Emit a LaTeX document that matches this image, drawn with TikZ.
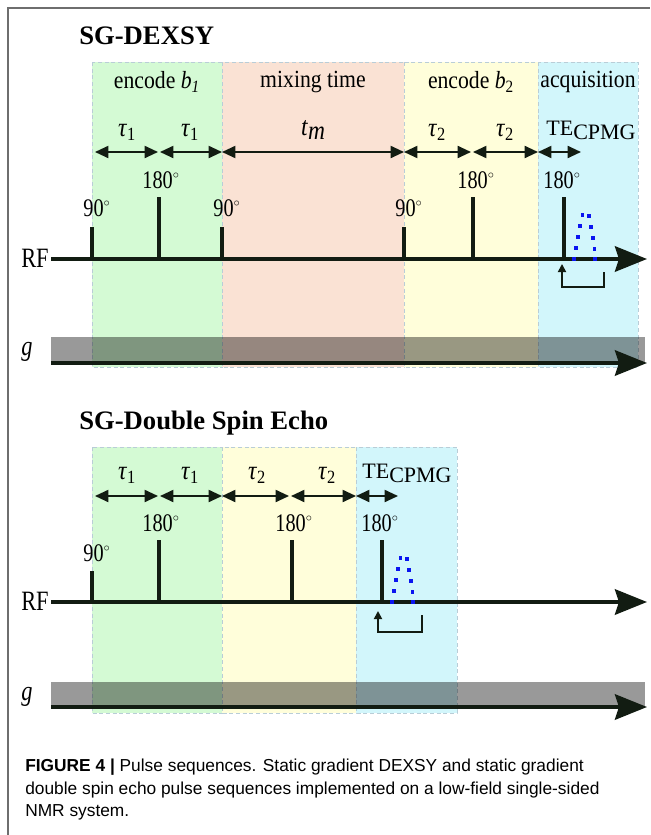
\documentclass[tikz,border=0pt]{standalone}
\usepackage{fontspec}
\setmainfont{Liberation Serif}
\newfontfamily\capfont{Liberation Sans}
\newfontfamily\lblfont[FakeStretch=0.88]{Liberation Serif}
\newfontfamily\numfont[FakeStretch=0.8]{Liberation Serif}
\usetikzlibrary{arrows.meta}
\definecolor{bgreen}{RGB}{212,250,212}
\definecolor{bpeach}{RGB}{250,226,212}
\definecolor{byellow}{RGB}{255,254,218}
\definecolor{bblue}{RGB}{210,246,251}
\definecolor{bedge}{RGB}{185,205,215}
\definecolor{ink}{RGB}{18,28,18}
\definecolor{frame}{RGB}{110,110,110}
\definecolor{dotblue}{RGB}{10,20,240}
\newcommand{\dg}{\raisebox{1pt}{$^{\scriptscriptstyle\circ}$}}
\tikzset{
  lbl/.style={font=\lblfont\fontsize{18.5}{21}\selectfont, inner sep=0pt},
  tau/.style={font=\lblfont\fontsize{20}{22}\selectfont, inner sep=0pt},
  num/.style={font=\numfont\fontsize{19}{21}\selectfont, inner sep=0pt},
  tecp/.style={font=\fontsize{16.5}{19}\selectfont, inner sep=0pt},
  ttl/.style={font=\fontsize{20}{24}\selectfont\bfseries, inner sep=0pt, anchor=west},
  axlbl/.style={font=\numfont\fontsize{21}{23}\selectfont, inner sep=0pt},
  band/.style={draw=bedge, dashed, dash pattern=on 3pt off 2pt, line width=0.5pt},
  axisline/.style={draw=ink, line width=3pt, -{Stealth[length=24pt, width=19pt, inset=3pt]}},
  gbar/.style={fill=black, opacity=0.4},
  pulsea/.style={draw=ink, line width=2.3pt},
  pulseb/.style={draw=ink, line width=3.4pt},
  tarr/.style={draw=ink, line width=1.4pt, {Triangle[length=10pt, width=9pt]}-{Triangle[length=10pt, width=9pt]}},
  brk/.style={draw=ink, line width=1.3pt, -{Triangle[length=6pt, width=6pt]}},
  dotsq/.style={fill=dotblue}
}
\begin{document}
\begin{tikzpicture}[x=0.75pt, y=-0.75pt]
\useasboundingbox (0,0) rectangle (650,835);
\fill[white] (0,0) rectangle (650,835);
\draw[frame, line width=1.1pt] (8,835) -- (8,8) -- (650,8);

% ================= SG-DEXSY =================
\node[ttl] (t1) at (79,36) {SG-DEXSY};
\path[band, fill=bgreen]  (92,62)  rectangle (222,367);
\path[band, fill=bpeach]  (222,62) rectangle (404,367);
\path[band, fill=byellow] (404,62) rectangle (538,367);
\path[band, fill=bblue]   (538,62) rectangle (638,367);

\node[lbl] (e1) at (157,82) {encode \textit{b}\textsubscript{\textit{1}}};
\node[lbl] (mx) at (313,82) {mixing time};
\node[lbl] (e2) at (471,82) {encode \textit{b}\textsubscript{2}};
\node[lbl] (aq) at (588,82) {acquisition};

\node[tau] (ta1) at (127,132) {\textit{τ}\textsubscript{1}};
\node[tau] (ta2) at (190,132) {\textit{τ}\textsubscript{1}};
\node[tau] (tm)  at (313,130) {\textit{t}\raisebox{-3pt}{\textit{m}}};
\node[tau] (tb1) at (437,132) {\textit{τ}\textsubscript{2}};
\node[tau] (tb2) at (505,132) {\textit{τ}\textsubscript{2}};
\node[tecp] (te)  at (591,130) {TE\raisebox{-3pt}{CPMG}};

\coordinate (a0) at (95,152);
\coordinate (a1) at (158,152);
\coordinate (a1b) at (160,152);
\coordinate (a2) at (222,152);
\coordinate (a3) at (404,152);
\coordinate (a4) at (471,152);
\coordinate (a4b) at (473,152);
\coordinate (a5) at (538,152);
\coordinate (a6) at (581,152);
\draw[tarr] (a0) -- (a1);
\draw[tarr] (a1b) -- (a2);
\draw[tarr] (a2) -- (a3);
\draw[tarr] (a3) -- (a4);
\draw[tarr] (a4b) -- (a5);
\draw[tarr] (a5) -- (a6);

\node[num] (d1) at (161,180) {180\dg};
\node[num] (d2) at (476,180) {180\dg};
\node[num] (d3) at (562,180) {180\dg};
\node[num] (n1) at (97,208) {90\dg};
\node[num] (n2) at (227,208) {90\dg};
\node[num] (n3) at (409,208) {90\dg};

\fill[gbar] (51,337) rectangle (645,363);
\coordinate (g1s) at (51,363);
\coordinate (g1e) at (647,363);
\draw[axisline] (g1s) -- (g1e);
\node[axlbl] (g1) at (27,352) {\textit{g}};

\coordinate (r1s) at (51,259);
\coordinate (r1e) at (647,259);
\draw[axisline] (r1s) -- (r1e);
\node[axlbl] (rf1) at (35,258) {RF};

\draw[pulsea] (92,260) -- (92,227);
\draw[pulsea] (222,260) -- (222,227);
\draw[pulsea] (404,260) -- (404,227);
\draw[pulseb] (159,260) -- (159,197);
\draw[pulseb] (473,260) -- (473,197);
\draw[pulseb] (564,260) -- (564,197);

\begin{scope}[shift={(574,259)}]
\foreach \dx/\dy in {0/0,2/-11,4/-22,6/-33,8.5/-44,15/-43,17/-32,19/-21,20.5/-10,21/0}
  \fill[dotsq] (\dx-1.8,\dy-1.8) rectangle ++(3.6,3.6);
\end{scope}

\coordinate (k1a) at (604,272);
\coordinate (k1b) at (604,287);
\coordinate (k1c) at (562,287);
\coordinate (k1d) at (562,264);
\draw[brk] (k1a) -- (k1b) -- (k1c) -- (k1d);

% ================= SG-Double Spin Echo =================
\node[ttl] (t2) at (79,423) {SG-Double Spin Echo};
\path[band, fill=bgreen]  (92,447)  rectangle (222,713);
\path[band, fill=byellow] (222,447) rectangle (356,713);
\path[band, fill=bblue]   (356,447) rectangle (457,713);

\node[tau] (sa1) at (127,475) {\textit{τ}\textsubscript{1}};
\node[tau] (sa2) at (190,475) {\textit{τ}\textsubscript{1}};
\node[tau] (sb1) at (257,475) {\textit{τ}\textsubscript{2}};
\node[tau] (sb2) at (327,475) {\textit{τ}\textsubscript{2}};
\node[tecp] (se)  at (407,473) {TE\raisebox{-3pt}{CPMG}};

\coordinate (b0) at (95,496);
\coordinate (b1) at (158,496);
\coordinate (b1b) at (160,496);
\coordinate (b2) at (222,496);
\coordinate (b3) at (289,496);
\coordinate (b3b) at (291,496);
\coordinate (b4) at (356,496);
\coordinate (b5) at (398,496);
\draw[tarr] (b0) -- (b1);
\draw[tarr] (b1b) -- (b2);
\draw[tarr] (b2) -- (b3);
\draw[tarr] (b3b) -- (b4);
\draw[tarr] (b4) -- (b5);

\node[num] (f1) at (161,523) {180\dg};
\node[num] (f2) at (294,523) {180\dg};
\node[num] (f3) at (380,523) {180\dg};
\node[num] (m1) at (97,553) {90\dg};

\fill[gbar] (51,682) rectangle (645,707);
\coordinate (g2s) at (51,707);
\coordinate (g2e) at (647,707);
\draw[axisline] (g2s) -- (g2e);
\node[axlbl] (g2) at (27,697) {\textit{g}};

\coordinate (r2s) at (51,602);
\coordinate (r2e) at (647,602);
\draw[axisline] (r2s) -- (r2e);
\node[axlbl] (rf2) at (35,601) {RF};

\draw[pulsea] (92,603) -- (92,571);
\draw[pulseb] (159,603) -- (159,540);
\draw[pulseb] (292,603) -- (292,540);
\draw[pulseb] (382,603) -- (382,540);

\begin{scope}[shift={(392,602)}]
\foreach \dx/\dy in {0/0,2/-11,4/-22,6/-33,8.5/-44,15/-43,17/-32,19/-21,20.5/-10,21/0}
  \fill[dotsq] (\dx-1.8,\dy-1.8) rectangle ++(3.6,3.6);
\end{scope}

\coordinate (k2a) at (422,615);
\coordinate (k2b) at (422,632);
\coordinate (k2c) at (378,632);
\coordinate (k2d) at (378,611);
\draw[brk] (k2a) -- (k2b) -- (k2c) -- (k2d);

% ================= caption =================
\begin{scope}[every node/.style={anchor=west, inner sep=0pt, font=\capfont\fontsize{13}{16}\selectfont}]
\node (c1) at (25,767) {\textbf{FIGURE 4 |} Pulse sequences. Static gradient DEXSY and static gradient};
\node (c2) at (25,790) {double spin echo pulse sequences implemented on a low-field single-sided};
\node (c3) at (25,812) {NMR system.};
\end{scope}
\end{tikzpicture}
\end{document}
